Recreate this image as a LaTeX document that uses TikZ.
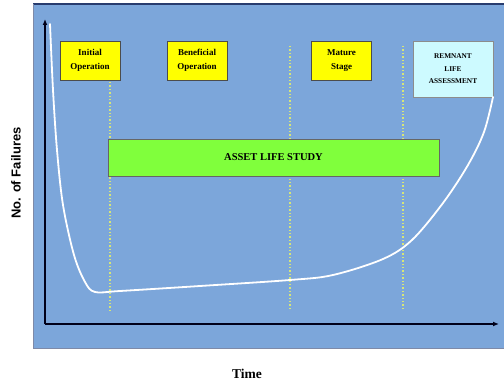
\documentclass[tikz,border=0pt]{standalone}
\usepackage{fontspec}
\setmainfont{Liberation Serif}
\setsansfont{Liberation Sans}
\usepackage{tikz}
\usetikzlibrary{arrows.meta, positioning}
\definecolor{panelblue}{RGB}{124,166,218}
\definecolor{paneledge}{RGB}{40,60,110}
\definecolor{stageyellow}{RGB}{255,255,0}
\definecolor{studygreen}{RGB}{128,255,60}
\definecolor{remcyan}{RGB}{205,250,255}
\definecolor{dotline}{RGB}{215,230,120}
\tikzset{
  stagebox/.style={draw=black!70,fill=stageyellow,align=center,inner sep=1pt,
    font=\fontsize{9}{13.5}\selectfont\bfseries,minimum width=60pt,minimum height=39pt},
  rembox/.style={stagebox,fill=remcyan,draw=black!45,font=\fontsize{7.3}{12.5}\selectfont\bfseries,
    minimum width=80pt,minimum height=56pt},
  studybox/.style={draw=black!60,fill=studygreen,font=\fontsize{10.5}{12}\selectfont\bfseries,
    minimum width=331pt,minimum height=37pt},
  axisline/.style={-{Latex[length=6pt,width=5pt]},line width=1.6pt,black!90!blue},
  phaseline/.style={dotline,line width=1.4pt,dotted},
  lifecurve/.style={white,line width=1.8pt,line cap=round},
}

\begin{document}
\begin{tikzpicture}[x=1pt,y=-1pt]
  \useasboundingbox (0,0) rectangle (504,385);
  % panel
  \fill[panelblue] (33,4) rectangle (504,348);
  \draw[paneledge,line width=1.2pt] (33,4) -- (504,4);
  \draw[paneledge!60,line width=0.6pt] (33,4) -- (33,348) -- (504,348);
  % phase separators
  \coordinate (d1t) at (110,82);  \coordinate (d1b) at (110,310);
  \coordinate (d2t) at (290,46);  \coordinate (d2b) at (290,310);
  \coordinate (d3t) at (403,46);  \coordinate (d3b) at (403,310);
  \draw[phaseline] (d1t) -- (d1b);
  \draw[phaseline] (d2t) -- (d2b);
  \draw[phaseline] (d3t) -- (d3b);
  % stages
  \node[stagebox] (nInit) at (90,60.5) {Initial\\Operation};
  \node[stagebox] (nBen) at (197,60.5) {Beneficial\\Operation};
  \node[stagebox] (nMat) at (341.5,60.5) {Mature\\Stage};
  \node[rembox] (nRem) at (453,69) {REMNANT\\LIFE\\ASSESSMENT};
  \node[studybox] (nStudy) at (273.5,157.5) {ASSET LIFE STUDY};
  % failure curve
  \draw[lifecurve] plot[smooth,tension=0.55] coordinates {(50,24) (53,90) (57,150) (63,205)
    (74,255) (85,282) (95,292) (120,291) (200,286) (290,280) (333,275) (383,259) (412,240)
    (443,203) (468,165) (484,132) (493,97)};
  % axes
  \coordinate (origin) at (45,324);
  \coordinate (ytop) at (45,19);
  \coordinate (xend) at (499,324);
  \draw[axisline] (origin) -- (ytop);
  \draw[axisline] (origin) -- (xend);
  \node[font=\sffamily\bfseries\fontsize{13}{14}\selectfont,rotate=90] (ylab) at (16,173) {No. of Failures};
  \node[font=\bfseries\fontsize{13.5}{14}\selectfont] (xlab) at (247,374) {Time};
\end{tikzpicture}
\end{document}
